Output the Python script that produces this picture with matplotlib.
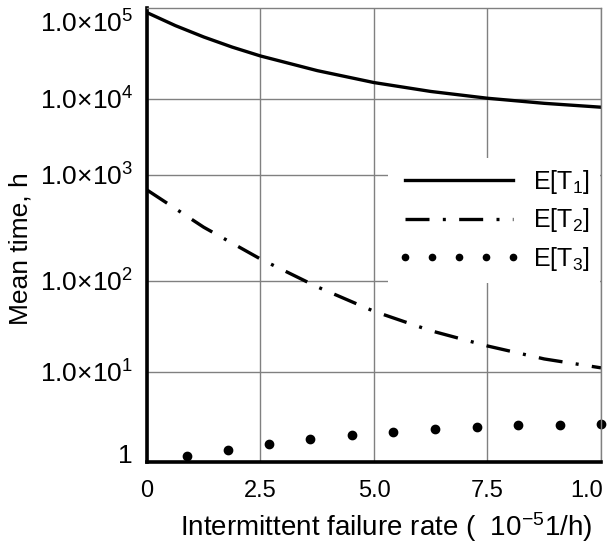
import numpy as np
import matplotlib
matplotlib.use("Agg")
import matplotlib.pyplot as plt
from matplotlib.ticker import FixedLocator, FixedFormatter
from matplotlib.transforms import ScaledTranslation

plt.rcParams['font.family'] = ['Liberation Sans', 'DejaVu Sans']
plt.rcParams['mathtext.fontset'] = 'custom'
plt.rcParams['mathtext.rm'] = 'Liberation Sans'
plt.rcParams['mathtext.it'] = 'Liberation Sans:italic'

# Data (x in 10^-5 1/h)
x_t1 = [0, 0.625, 1.25, 1.875, 2.5, 3.75, 5.0, 6.25, 7.5, 8.75, 10.0]
t1_mean = [1.32e5, 8.95e4, 6.37e4, 4.71e4, 3.61e4, 2.33e4, 1.63e4, 1.25e4,
           1.02e4, 8.75e3, 7.78e3]

x_t2 = [0, 1.25, 2.5, 3.75, 5.0, 6.25, 7.5, 8.75, 10.0]
t2_mean = [721, 321, 161, 86.1, 46.4, 28.4, 19.3, 13.9, 11.1]

x_t3 = [0.88, 1.78, 2.69, 3.59, 4.52, 5.42, 6.34, 7.27, 8.17, 9.10, 10.0]
t3_mean = [1.17, 1.36, 1.58, 1.80, 2.0, 2.15, 2.33, 2.45, 2.58, 2.58, 2.64]

x_ticks = [0, 2.5, 5.0, 7.5, 10.0]
x_tick_labels = ['0', '2.5', '5.0', '7.5', '1.0']
y_ticks = [1, 10, 100, 1e3, 1e4, 1e5]
y_tick_labels = ['1', '1.0×10$^{1}$', '1.0×10$^{2}$',
                 '1.0×10$^{3}$', '1.0×10$^{4}$', '1.0×10$^{5}$']

# the original log axis has uneven decades; map them piecewise
decade_log = [-3, 0, 1, 2, 3, 4, 5, 8]
decade_pos = [-270, 0, 90, 181, 287, 363, 440, 671]


def fwd(y):
    y = np.clip(np.asarray(y, dtype=float), 1e-300, None)
    return np.interp(np.log10(y), decade_log, decade_pos)


def inv(p):
    return 10 ** np.interp(np.asarray(p, dtype=float), decade_pos, decade_log)


fig = plt.figure(figsize=(6.11, 5.43), dpi=100)
ax = fig.add_axes([0.2406, 0.1492, 0.743, 0.836])

ax.plot(x_t1, t1_mean, color='black', lw=2.4, label='E[T$_1$]')
ax.plot(x_t2, t2_mean, color='black', lw=2.4,
        linestyle=(0, (7.2, 4.0, 0.9, 4.0)), label='E[T$_2$]')
ax.plot(x_t3, t3_mean, color='black', linestyle='none', marker='o',
        markersize=6, label='E[T$_3$]', clip_on=False)

ax.set_yscale('function', functions=(fwd, inv))
ax.set_xlim(0, 10)
ax.set_ylim(1, 10 ** 5.18)

ax.xaxis.set_major_locator(FixedLocator(x_ticks))
ax.xaxis.set_major_formatter(FixedFormatter(x_tick_labels))
ax.yaxis.set_major_locator(FixedLocator(y_ticks))
ax.yaxis.set_major_formatter(FixedFormatter(y_tick_labels))
ax.yaxis.set_minor_locator(FixedLocator([]))
ax.tick_params(axis='both', length=0)
ax.tick_params(axis='x', pad=13, labelsize=17)
ax.tick_params(axis='y', pad=10, labelsize=19)

ax.grid(True, color='#808080', lw=1.0)
for side in ['left', 'bottom']:
    ax.spines[side].set_linewidth(2.6)
for side in ['top', 'right']:
    ax.spines[side].set_linewidth(1.0)
    ax.spines[side].set_color('#808080')

fig.canvas.draw()
ax.yaxis.get_major_ticks()[-1].gridline.set_visible(False)
last_x = ax.xaxis.get_major_ticks()[-1].label1
last_x.set_transform(last_x.get_transform() + ScaledTranslation(-0.14, 0, fig.dpi_scale_trans))
first_y = ax.yaxis.get_major_ticks()[0].label1
first_y.set_transform(first_y.get_transform() + ScaledTranslation(0, 0.08, fig.dpi_scale_trans))

ax.set_xlabel(r'Intermittent failure rate (  $10^{-5}$1/h)', fontsize=20)
ax.xaxis.set_label_coords(0.526, -0.106)
ax.set_ylabel('Mean time, h', fontsize=19)
ax.yaxis.set_label_coords(-0.253, 0.469)

leg = ax.legend(loc='center', bbox_to_anchor=(0.764, 0.532), fontsize=18,
                handlelength=4.9, numpoints=5, labelspacing=0.42, markerscale=0.75,
                frameon=True, fancybox=False, borderpad=0.4, handletextpad=0.5)
leg.get_frame().set_edgecolor('none')
leg.get_frame().set_facecolor('white')
leg.get_frame().set_alpha(1)

fig.savefig('out.png', dpi=100)
